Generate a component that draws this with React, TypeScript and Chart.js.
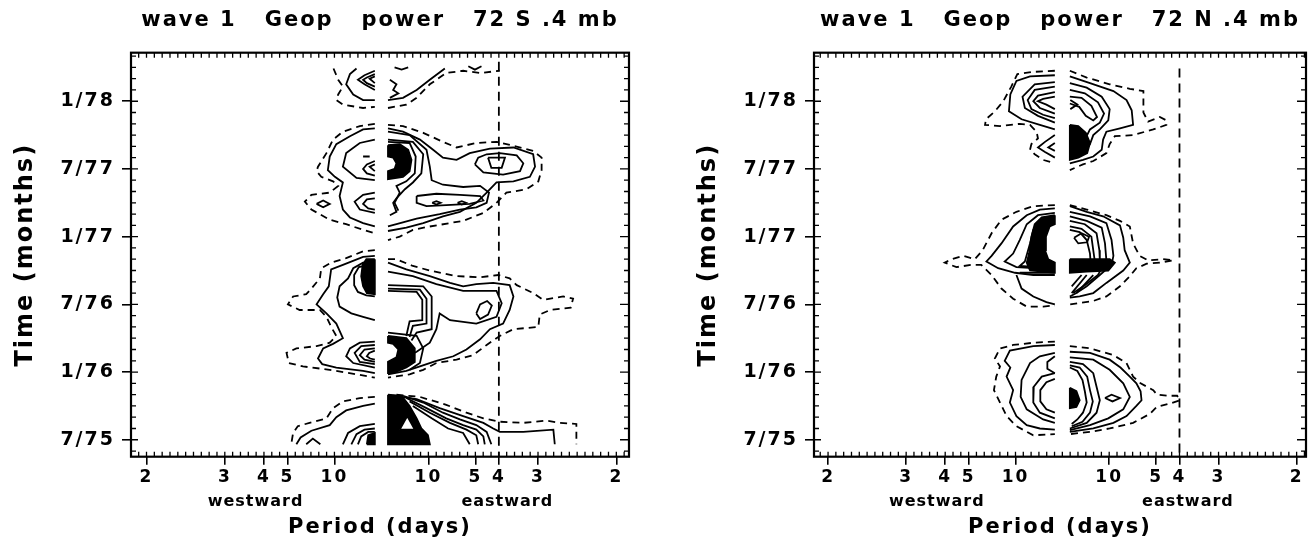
import React, { useEffect, useRef } from 'react';
import { Chart, registerables } from 'chart.js';

Chart.register(...registerables);

const FONT_FAMILY = "'DejaVu Sans', 'Liberation Sans', sans-serif";

// ---- axes ----
const PERIOD_TICKS = [2, 3, 4, 5, 10];
const X_TICK_VALUES = [...PERIOD_TICKS.map((p) => -1 / p), ...PERIOD_TICKS.map((p) => 1 / p)];
const MONTH_TICKS = [0, 6, 12, 18, 24, 30];
const MONTH_LABELS = ['7/75', '1/76', '7/76', '1/77', '7/77', '1/78'];
const MONTH_RANGE = [-1.5, 34.3];
const FREQ_RANGE_S = [-0.533, 0.527];
const FREQ_RANGE_N = [-0.53, 0.52];
const FREQ_MINOR_STEP = 1 / 60;
const DIRECTION_LABELS = ['westward', 'eastward'];
const DIRECTION_FREQ = [-0.268, 0.268];
const TITLE_S = 'wave 1   Geop   power   72 S .4 mb';
const TITLE_N = 'wave 1   Geop   power   72 N .4 mb';
const X_TITLE = 'Period (days)';
const Y_TITLE = 'Time (months)';

// period = 4 days (eastward) reference line
const S_PERIOD4 = [[0.25, 33.5], [0.25, -1.5]];
const N_PERIOD4 = [[0.25, 32.9], [0.25, -1.5]];

// ---- 72 S contours: [signed frequency (cycles/day), months since 7/75] ----
const S_DASHED = [
  [[-0.102, 32.9], [-0.092, 31.9], [-0.082, 31.3], [-0.092, 30.6], [-0.096, 30.1], [-0.082, 29.7], [-0.039, 29.4], [-0.014, 29.5]],
  [[0.014, 29.4], [0.053, 29.7], [0.075, 30.3], [0.103, 31.5], [0.138, 32.5], [0.174, 32.7], [0.21, 32.5], [0.252, 32.7]],
  [[-0.014, 28.0], [-0.046, 27.8], [-0.082, 27.3], [-0.103, 26.6], [-0.117, 25.4], [-0.135, 24.2], [-0.138, 23.8], [-0.128, 23.3], [-0.103, 22.9], [-0.092, 22.5], [-0.11, 21.9], [-0.149, 21.7], [-0.163, 21.1], [-0.149, 20.4], [-0.11, 19.5], [-0.075, 19.1], [-0.039, 18.6], [-0.014, 18.3]],
  [[0.014, 27.9], [0.046, 27.8], [0.089, 27.2], [0.131, 26.4], [0.16, 25.9], [0.202, 26.3], [0.245, 26.4], [0.266, 26.2], [0.323, 25.6], [0.341, 25.0], [0.341, 23.9], [0.334, 22.9], [0.309, 22.2], [0.266, 21.9], [0.245, 21.0], [0.217, 20.1], [0.174, 19.4], [0.103, 18.9], [0.067, 18.6], [0.039, 18.0], [0.014, 17.7]],
  [[-0.014, 16.8], [-0.039, 16.7], [-0.075, 16.1], [-0.107, 15.7], [-0.128, 15.2], [-0.131, 14.3], [-0.149, 13.4], [-0.16, 12.9], [-0.188, 12.7], [-0.199, 12.0], [-0.174, 11.5], [-0.131, 11.5], [-0.117, 10.9], [-0.107, 10.0], [-0.096, 9.2], [-0.11, 8.6], [-0.138, 8.3], [-0.181, 8.1], [-0.202, 7.7], [-0.197, 6.8], [-0.167, 6.5], [-0.11, 6.2], [-0.053, 5.8], [-0.014, 5.5]],
  [[0.014, 16.0], [0.032, 16.0], [0.067, 15.4], [0.103, 15.0], [0.16, 14.5], [0.21, 14.4], [0.249, 14.6], [0.273, 14.3], [0.288, 13.7], [0.323, 13.0], [0.344, 12.4], [0.387, 12.7], [0.408, 12.5], [0.403, 11.7], [0.359, 11.5], [0.337, 11.1], [0.334, 10.0], [0.281, 9.8], [0.252, 9.2], [0.224, 8.4], [0.195, 7.5], [0.16, 7.1], [0.117, 6.8], [0.089, 6.2], [0.06, 5.8], [0.014, 5.5]],
  [[-0.014, 3.8], [-0.046, 3.7], [-0.082, 3.4], [-0.103, 2.8], [-0.117, 1.9], [-0.153, 1.5], [-0.178, 1.2], [-0.188, 0.6], [-0.192, -0.4]],
  [[0.032, 4.0], [0.082, 3.8], [0.138, 3.1], [0.181, 2.4], [0.217, 1.9], [0.252, 1.6], [0.302, 1.5], [0.351, 1.7], [0.38, 1.5], [0.415, 1.4], [0.415, -0.4]],
];

const S_SOLID = [
  [[-0.014, 30.1], [-0.039, 30.1], [-0.06, 30.6], [-0.075, 31.5], [-0.067, 32.4], [-0.053, 32.9]],
  [[-0.014, 32.7], [-0.036, 32.3], [-0.05, 31.9], [-0.036, 31.5], [-0.014, 31.0]],
  [[-0.014, 32.4], [-0.031, 32.1], [-0.039, 31.9], [-0.031, 31.6], [-0.014, 31.3]],
  [[-0.014, 32.2], [-0.025, 32.0], [-0.014, 31.6]],
  [[0.014, 30.1], [0.046, 30.3], [0.075, 31.0], [0.103, 31.9], [0.135, 32.9]],
  [[0.018, 31.9], [0.032, 31.5], [0.025, 31.0], [0.036, 30.7], [0.018, 30.3]],
  [[0.028, 33.0], [0.043, 32.8], [0.057, 33.0]],
  [[0.185, 33.1], [0.199, 32.8], [0.213, 33.1]],
  [[-0.014, 27.6], [-0.039, 27.5], [-0.067, 26.9], [-0.096, 26.2], [-0.11, 25.1], [-0.114, 23.9], [-0.099, 23.3], [-0.082, 22.8], [-0.089, 21.6], [-0.082, 20.4], [-0.067, 19.7], [-0.039, 19.2], [-0.014, 18.9]],
  [[-0.014, 26.6], [-0.046, 26.3], [-0.075, 25.4], [-0.082, 24.2], [-0.053, 23.2], [-0.014, 23.0]],
  [[-0.014, 24.7], [-0.031, 24.4], [-0.039, 24.0], [-0.031, 23.6], [-0.014, 23.4]],
  [[-0.014, 24.4], [-0.025, 24.2], [-0.014, 23.8]],
  [[-0.039, 25.1], [-0.025, 25.1]],
  [[-0.014, 21.9], [-0.039, 21.7], [-0.057, 21.1], [-0.046, 20.4], [-0.014, 20.1]],
  [[-0.014, 21.4], [-0.031, 21.3], [-0.039, 20.9], [-0.028, 20.5], [-0.014, 20.4]],
  [[-0.138, 20.9], [-0.124, 21.2], [-0.11, 20.9], [-0.124, 20.6], [-0.138, 20.9]],
  [[0.014, 27.6], [0.046, 27.3], [0.082, 26.6], [0.11, 25.7], [0.131, 25.0], [0.16, 24.8], [0.188, 25.4], [0.231, 25.8], [0.281, 25.9], [0.323, 25.3], [0.327, 24.2], [0.316, 23.3], [0.281, 22.9], [0.245, 22.8], [0.224, 21.9], [0.202, 21.0], [0.167, 20.2], [0.131, 19.8], [0.089, 19.2], [0.053, 18.8], [0.014, 18.5]],
  [[0.014, 27.3], [0.06, 27.0], [0.096, 25.7], [0.103, 24.2], [0.107, 23.0], [0.131, 22.6], [0.174, 22.4], [0.21, 22.5], [0.229, 21.9], [0.224, 21.0], [0.202, 20.6], [0.167, 20.4], [0.124, 20.0], [0.075, 19.6], [0.032, 19.1], [0.014, 18.9]],
  [[0.075, 21.6], [0.117, 21.8], [0.167, 21.7], [0.21, 21.6], [0.217, 21.2], [0.188, 20.9], [0.138, 20.8], [0.096, 20.7], [0.075, 21.0], [0.075, 21.6]],
  [[0.108, 21.0], [0.117, 21.15], [0.126, 21.0], [0.117, 20.85], [0.108, 21.0]],
  [[0.162, 21.0], [0.171, 21.15], [0.18, 21.0], [0.171, 20.85], [0.162, 21.0]],
  [[0.199, 24.4], [0.206, 25.0], [0.224, 25.3], [0.252, 25.4], [0.288, 25.2], [0.302, 24.5], [0.295, 23.8], [0.259, 23.5], [0.217, 23.7], [0.199, 24.4]],
  [[0.227, 25.0], [0.263, 25.0], [0.256, 24.1], [0.234, 24.1], [0.227, 25.0]],
  [[0.014, 26.4], [0.06, 26.3], [0.073, 25.1], [0.071, 23.6], [0.053, 22.9], [0.032, 22.5], [0.039, 21.9], [0.028, 21.0], [0.036, 20.3]],
  [[0.014, 26.6], [0.067, 26.4], [0.089, 25.3], [0.085, 23.6], [0.067, 22.8], [0.05, 22.2], [0.032, 21.4], [0.025, 21.0], [0.032, 20.2], [0.018, 19.9]],
  [[-0.014, 16.3], [-0.039, 16.2], [-0.082, 15.5], [-0.107, 15.1], [-0.112, 13.6], [-0.124, 12.9], [-0.138, 12.0], [-0.117, 11.2], [-0.096, 10.3], [-0.082, 9.0], [-0.103, 8.5], [-0.124, 8.1], [-0.135, 7.2], [-0.126, 6.7], [-0.096, 6.4], [-0.039, 6.1], [-0.014, 5.9]],
  [[-0.014, 15.8], [-0.039, 15.7], [-0.06, 15.2], [-0.071, 14.3], [-0.089, 13.6], [-0.094, 12.6], [-0.089, 11.8], [-0.064, 11.2], [-0.039, 10.9], [-0.014, 10.6]],
  [[-0.014, 15.6], [-0.048, 15.3], [-0.058, 14.6], [-0.058, 13.7], [-0.05, 13.1], [-0.032, 12.8], [-0.014, 12.7]],
  [[-0.014, 8.7], [-0.046, 8.6], [-0.067, 8.1], [-0.075, 7.4], [-0.06, 6.8], [-0.014, 6.4]],
  [[-0.014, 8.4], [-0.043, 8.3], [-0.057, 7.7], [-0.046, 6.9], [-0.014, 6.7]],
  [[-0.014, 8.1], [-0.036, 8.0], [-0.046, 7.5], [-0.036, 7.1], [-0.014, 6.9]],
  [[-0.014, 7.9], [-0.026, 7.7], [-0.031, 7.4], [-0.024, 7.2], [-0.014, 7.1]],
  [[0.014, 15.7], [0.053, 15.1], [0.103, 14.5], [0.146, 13.9], [0.174, 13.6], [0.202, 13.8], [0.238, 13.9], [0.273, 13.7], [0.281, 12.7], [0.273, 11.5], [0.259, 10.3], [0.231, 9.8], [0.21, 8.9], [0.181, 8.0], [0.153, 7.4], [0.117, 7.0], [0.082, 6.5], [0.053, 6.1], [0.014, 5.8]],
  [[0.014, 14.9], [0.067, 14.5], [0.117, 13.8], [0.174, 13.2], [0.245, 13.2], [0.256, 12.1], [0.245, 10.9], [0.202, 10.3], [0.146, 10.6], [0.124, 11.2], [0.117, 9.8], [0.103, 8.6], [0.075, 7.8], [0.046, 7.2], [0.014, 6.8]],
  [[0.014, 13.7], [0.089, 13.6], [0.107, 12.7], [0.107, 9.8], [0.075, 9.5], [0.064, 8.8]],
  [[0.014, 13.4], [0.082, 13.3], [0.096, 12.5], [0.096, 10.3], [0.067, 10.1], [0.06, 9.1]],
  [[0.014, 13.2], [0.075, 13.1], [0.087, 12.4], [0.087, 10.6], [0.06, 10.5], [0.053, 9.2]],
  [[0.202, 11.2], [0.21, 12.0], [0.225, 12.3], [0.235, 11.9], [0.227, 11.1], [0.21, 10.7], [0.202, 11.2]],
  [[0.014, 9.5], [0.075, 9.2], [0.089, 8.1], [0.082, 6.8], [0.06, 6.2]],
  [[-0.014, 3.2], [-0.039, 3.0], [-0.075, 2.6], [-0.096, 2.0], [-0.11, 1.3], [-0.149, 0.8], [-0.172, 0.2], [-0.181, -0.4]],
  [[-0.16, -0.4], [-0.146, 0.1], [-0.13, -0.4]],
  [[-0.082, -0.4], [-0.071, 0.6], [-0.046, 1.2], [-0.014, 1.4]],
  [[-0.064, -0.4], [-0.053, 0.5], [-0.036, 0.9], [-0.014, 1.0]],
  [[-0.05, -0.4], [-0.043, 0.3], [-0.028, 0.7], [-0.014, 0.7]],
  [[0.025, 3.9], [0.075, 3.6], [0.124, 2.8], [0.174, 2.1], [0.217, 1.5], [0.238, 1.0], [0.252, 0.7], [0.302, 0.7], [0.366, 0.9], [0.369, -0.4]],
  [[0.046, 3.9], [0.089, 3.3], [0.131, 2.4], [0.167, 1.8], [0.202, 1.3], [0.224, 0.7], [0.234, -0.4]],
  [[0.053, 3.7], [0.096, 2.8], [0.138, 1.9], [0.174, 1.3], [0.202, 0.9], [0.217, 0.3], [0.22, -0.4]],
  [[0.06, 3.4], [0.103, 2.4], [0.146, 1.5], [0.181, 0.9], [0.202, 0.4], [0.206, -0.4]],
  [[0.067, 3.0], [0.107, 1.9], [0.142, 1.0], [0.174, 0.6], [0.188, -0.4]],
];

const S_FILLED = [
  [[0.014, 26.1], [0.039, 26.2], [0.057, 25.7], [0.064, 24.8], [0.06, 23.8], [0.046, 23.3], [0.014, 23.1], [0.014, 23.8], [0.028, 24.0], [0.032, 24.5], [0.025, 25.0], [0.014, 25.1], [0.014, 26.1]],
  [[-0.014, 16.0], [-0.032, 16.0], [-0.04, 15.5], [-0.043, 14.5], [-0.039, 13.6], [-0.031, 13.0], [-0.014, 12.9], [-0.014, 16.0]],
  [[0.014, 9.2], [0.053, 9.0], [0.071, 8.1], [0.071, 6.9], [0.053, 6.4], [0.025, 5.9], [0.014, 5.9], [0.014, 6.9], [0.032, 7.3], [0.036, 8.0], [0.025, 8.5], [0.014, 8.6], [0.014, 9.2]],
  [[-0.031, -0.4], [-0.028, 0.4], [-0.014, 0.6], [-0.014, -0.4], [-0.031, -0.4]],
  [[0.014, 4.0], [0.043, 3.9], [0.06, 3.0], [0.075, 1.9], [0.085, 1.0], [0.099, 0.4], [0.103, -0.4], [0.014, -0.4], [0.014, 4.0]],
];
const S_HOLES = [
  [[0.039, 0.9], [0.071, 0.9], [0.055, 2.1], [0.039, 0.9]],
];

// ---- 72 N contours ----
const N_DASHED = [
  [[-0.016, 32.7], [-0.062, 32.6], [-0.096, 32.4], [-0.109, 31.3], [-0.126, 30.0], [-0.144, 29.1], [-0.163, 28.4], [-0.165, 27.9], [-0.133, 27.8], [-0.091, 28.0], [-0.069, 27.9], [-0.055, 27.3], [-0.052, 26.7], [-0.066, 26.2], [-0.069, 25.7], [-0.059, 25.3], [-0.041, 24.8], [-0.016, 24.5]],
  [[0.016, 32.7], [0.052, 32.1], [0.101, 31.5], [0.144, 31.1], [0.173, 30.9], [0.173, 29.0], [0.183, 28.2], [0.208, 28.6], [0.222, 28.3], [0.222, 27.9], [0.194, 27.5], [0.151, 27.0], [0.112, 26.9], [0.101, 26.2], [0.094, 25.4], [0.066, 24.7], [0.044, 24.4], [0.016, 23.9]],
  [[-0.016, 20.8], [-0.062, 20.7], [-0.098, 20.2], [-0.13, 19.5], [-0.151, 18.3], [-0.17, 16.8], [-0.187, 16.0], [-0.212, 16.3], [-0.237, 16.0], [-0.251, 15.7], [-0.226, 15.3], [-0.194, 15.5], [-0.173, 15.5], [-0.151, 14.6], [-0.13, 13.4], [-0.105, 12.5], [-0.076, 11.8], [-0.041, 11.8], [-0.016, 11.9]],
  [[0.016, 20.8], [0.052, 20.4], [0.094, 19.9], [0.123, 19.4], [0.144, 18.9], [0.151, 17.4], [0.165, 16.3], [0.183, 15.9], [0.215, 16.0], [0.237, 15.9], [0.208, 15.7], [0.18, 15.6], [0.158, 15.2], [0.144, 14.5], [0.123, 13.6], [0.094, 12.7], [0.066, 12.3], [0.016, 12.0]],
  [[-0.016, 8.7], [-0.062, 8.6], [-0.105, 8.4], [-0.133, 8.1], [-0.144, 7.2], [-0.133, 6.5], [-0.141, 5.6], [-0.146, 4.4], [-0.133, 3.3], [-0.119, 2.1], [-0.098, 1.2], [-0.062, 0.4], [-0.016, 0.5]],
  [[0.016, 8.3], [0.059, 8.1], [0.109, 7.5], [0.137, 6.8], [0.151, 5.6], [0.167, 5.0], [0.194, 4.4], [0.202, 4.0], [0.226, 3.9], [0.245, 3.9], [0.251, 3.5], [0.229, 3.2], [0.201, 2.9], [0.187, 2.3], [0.151, 1.5], [0.101, 1.0], [0.059, 0.7], [0.016, 0.5]],
];

const N_SOLID = [
  [[-0.016, 32.3], [-0.069, 32.2], [-0.098, 31.8], [-0.111, 30.6], [-0.114, 29.1], [-0.087, 28.4], [-0.048, 27.9], [-0.016, 27.5]],
  [[-0.016, 27.0], [-0.037, 26.4], [-0.052, 25.9], [-0.037, 25.5], [-0.016, 25.0]],
  [[-0.016, 26.3], [-0.03, 25.9], [-0.016, 25.6]],
  [[-0.016, 31.7], [-0.059, 31.5], [-0.085, 30.4], [-0.08, 29.4], [-0.052, 28.7], [-0.016, 28.1]],
  [[-0.016, 31.3], [-0.059, 31.0], [-0.074, 30.1], [-0.066, 29.3], [-0.041, 28.8], [-0.016, 28.5]],
  [[-0.016, 30.8], [-0.052, 30.5], [-0.062, 30.0], [-0.048, 29.4], [-0.016, 28.9]],
  [[-0.016, 30.4], [-0.041, 30.2], [-0.052, 30.0], [-0.034, 29.7], [-0.016, 29.3]],
  [[0.016, 32.2], [0.059, 31.6], [0.109, 30.9], [0.137, 30.1], [0.148, 29.2], [0.151, 27.9], [0.123, 27.6], [0.094, 27.3], [0.087, 26.6], [0.084, 25.7], [0.066, 25.1], [0.044, 24.8], [0.016, 24.5]],
  [[0.016, 31.6], [0.052, 31.2], [0.084, 30.4], [0.101, 29.3], [0.098, 28.3], [0.08, 27.5], [0.066, 27.0], [0.059, 26.2], [0.044, 25.4], [0.016, 25.0]],
  [[0.016, 31.0], [0.048, 30.7], [0.076, 29.9], [0.089, 28.9], [0.08, 28.1], [0.059, 27.5], [0.048, 26.6], [0.037, 25.7], [0.016, 25.3]],
  [[0.016, 30.4], [0.041, 30.3], [0.062, 29.6], [0.074, 28.6], [0.066, 28.3], [0.05, 28.7], [0.036, 29.5], [0.016, 29.8]],
  [[0.017, 30.1], [0.032, 29.7], [0.017, 29.3]],
  [[-0.016, 20.5], [-0.048, 20.4], [-0.076, 19.9], [-0.105, 18.9], [-0.13, 17.4], [-0.151, 16.3], [-0.162, 15.8], [-0.137, 15.2], [-0.101, 14.8], [-0.062, 14.6], [-0.016, 14.6]],
  [[-0.098, 14.6], [-0.087, 13.4], [-0.062, 12.7], [-0.034, 12.2], [-0.016, 12.0]],
  [[-0.016, 20.1], [-0.052, 19.9], [-0.076, 19.1], [-0.091, 17.7], [-0.105, 16.5], [-0.123, 15.8], [-0.098, 15.3], [-0.016, 15.1]],
  [[-0.016, 19.8], [-0.044, 19.6], [-0.062, 18.6], [-0.069, 17.4], [-0.08, 15.8], [-0.091, 15.4], [-0.016, 15.2]],
  [[-0.091, 14.8], [-0.016, 14.8]],
  [[0.016, 20.7], [0.052, 20.2], [0.087, 19.8], [0.123, 19.0], [0.13, 17.9], [0.133, 16.8], [0.144, 15.7], [0.13, 15.0], [0.094, 13.9], [0.066, 13.0], [0.037, 12.7], [0.016, 12.6]],
  [[0.016, 20.2], [0.059, 19.8], [0.094, 19.2], [0.105, 17.7], [0.109, 16.3], [0.105, 15.5], [0.08, 14.6], [0.052, 13.6], [0.03, 13.0], [0.016, 12.7]],
  [[0.016, 19.8], [0.052, 19.4], [0.084, 18.8], [0.091, 17.4], [0.094, 15.9], [0.076, 14.6], [0.048, 13.7], [0.023, 13.0]],
  [[0.016, 19.4], [0.048, 19.1], [0.073, 18.3], [0.079, 16.8], [0.08, 15.9]],
  [[0.016, 18.9], [0.041, 18.7], [0.062, 18.0], [0.067, 16.5], [0.069, 15.9]],
  [[0.016, 18.6], [0.037, 18.4], [0.052, 17.7], [0.059, 16.5], [0.06, 15.9]],
  [[0.025, 17.9], [0.041, 18.3], [0.057, 18.0], [0.053, 17.5], [0.034, 17.4], [0.025, 17.9]],
  [[0.02, 13.0], [0.052, 14.6]],
  [[0.02, 13.6], [0.041, 14.6]],
  [[0.03, 13.0], [0.066, 14.6]],
  [[-0.016, 8.4], [-0.062, 8.3], [-0.112, 7.9], [-0.123, 7.0], [-0.111, 6.4], [-0.119, 5.6], [-0.105, 4.4], [-0.112, 3.3], [-0.098, 2.1], [-0.076, 1.3], [-0.048, 1.0], [-0.016, 0.9]],
  [[-0.016, 7.7], [-0.048, 7.4], [-0.069, 6.8], [-0.087, 5.3], [-0.089, 3.8], [-0.076, 2.7], [-0.041, 1.8], [-0.016, 1.5]],
  [[-0.016, 5.9], [-0.044, 5.6], [-0.061, 4.7], [-0.062, 3.3], [-0.048, 2.4], [-0.016, 1.9]],
  [[-0.016, 5.4], [-0.034, 5.1], [-0.047, 4.4], [-0.047, 3.4], [-0.034, 2.7], [-0.016, 2.4]],
  [[-0.016, 7.4], [-0.032, 6.9], [-0.032, 6.3], [-0.016, 5.9]],
  [[0.016, 7.8], [0.059, 7.7], [0.101, 7.1], [0.124, 6.4], [0.144, 5.6], [0.158, 5.0], [0.167, 4.3], [0.169, 3.5], [0.158, 3.0], [0.137, 2.1], [0.109, 1.5], [0.066, 1.0], [0.016, 0.7]],
  [[0.016, 7.3], [0.066, 7.1], [0.101, 6.2], [0.13, 5.0], [0.144, 3.8], [0.13, 2.7], [0.098, 1.9], [0.059, 1.3], [0.016, 0.85]],
  [[0.016, 6.9], [0.044, 6.7], [0.066, 5.9], [0.073, 4.7], [0.08, 3.5], [0.073, 2.4], [0.052, 1.5], [0.016, 1.0]],
  [[0.016, 6.6], [0.037, 6.4], [0.053, 5.6], [0.059, 4.4], [0.065, 3.4], [0.059, 2.4], [0.043, 1.6], [0.02, 1.2]],
  [[0.016, 6.4], [0.032, 6.1], [0.043, 5.3], [0.048, 4.3], [0.052, 3.3], [0.044, 2.4], [0.032, 1.8], [0.02, 1.4]],
  [[0.091, 3.7], [0.105, 4.0], [0.123, 3.7], [0.107, 3.4], [0.091, 3.7]],
];

const N_FILLED = [
  [[0.016, 27.9], [0.034, 27.8], [0.05, 27.2], [0.059, 26.3], [0.053, 25.4], [0.034, 25.0], [0.016, 24.8], [0.016, 27.9]],
  [[-0.016, 19.9], [-0.044, 19.7], [-0.059, 19.1], [-0.066, 18.0], [-0.071, 16.5], [-0.076, 15.7], [-0.069, 15.0], [-0.016, 14.8], [-0.016, 15.7], [-0.03, 16.0], [-0.037, 16.8], [-0.035, 18.0], [-0.027, 18.9], [-0.016, 19.1], [-0.016, 19.9]],
  [[0.016, 16.0], [0.101, 16.0], [0.112, 15.7], [0.098, 15.0], [0.052, 14.9], [0.016, 14.8], [0.016, 16.0]],
  [[0.016, 4.6], [0.03, 4.3], [0.037, 3.5], [0.03, 2.9], [0.016, 2.8], [0.016, 4.6]],
];
const N_HOLES: number[][][] = [];

// ---- drawing helpers ----
const framePlugin = {
  id: 'plotFrame',
  beforeDraw(chart: any) {
    chart.ctx.letterSpacing = '2px';
  },
  afterDatasetsDraw(chart: any) {
    const { ctx, chartArea: a, scales } = chart;
    const x = scales.x;
    const y = scales.y;
    ctx.save();
    ctx.strokeStyle = '#000';
    ctx.lineWidth = 1.3;
    ctx.beginPath();
    const k0 = Math.ceil(x.min / FREQ_MINOR_STEP);
    const k1 = Math.floor(x.max / FREQ_MINOR_STEP);
    for (let k = k0; k <= k1; k++) {
      const px = x.getPixelForValue(k * FREQ_MINOR_STEP);
      ctx.moveTo(px, a.bottom);
      ctx.lineTo(px, a.bottom - 5);
      ctx.moveTo(px, a.top);
      ctx.lineTo(px, a.top + 5);
    }
    for (let m = Math.ceil(y.min); m <= Math.floor(y.max); m++) {
      const py = y.getPixelForValue(m);
      const major = MONTH_TICKS.includes(m);
      ctx.moveTo(a.left, py);
      ctx.lineTo(a.left + (major ? 7 : 5), py);
      ctx.moveTo(a.right, py);
      ctx.lineTo(a.right - (major ? 9 : 5), py);
    }
    ctx.stroke();
    ctx.lineWidth = 2.2;
    ctx.strokeRect(a.left, a.top, a.right - a.left, a.bottom - a.top);
    ctx.fillStyle = '#000';
    ctx.letterSpacing = '1px';
    ctx.font = `bold 16px ${FONT_FAMILY}`;
    ctx.textAlign = 'center';
    ctx.textBaseline = 'middle';
    DIRECTION_LABELS.forEach((t, i) => {
      ctx.fillText(t, x.getPixelForValue(DIRECTION_FREQ[i]), a.bottom + 45);
    });
    ctx.restore();
  },
};

function toPoints(c: number[][]) {
  return c.map(([x, y]) => ({ x, y }));
}

function buildChart(canvas: HTMLCanvasElement, cfg: any) {
  const base = {
    pointRadius: 0,
    pointHoverRadius: 0,
    borderColor: '#000',
    borderWidth: 1.8,
    tension: 0,
    fill: false,
  };
  const datasets = [
    ...cfg.filled.map((c: number[][]) => ({ ...base, data: toPoints(c), fill: 'shape', backgroundColor: '#000', order: 3 })),
    ...cfg.holes.map((c: number[][]) => ({ ...base, data: toPoints(c), fill: 'shape', backgroundColor: '#fff', order: 2 })),
    ...cfg.solid.map((c: number[][]) => ({ ...base, data: toPoints(c), order: 1 })),
    ...cfg.dashed.map((c: number[][]) => ({ ...base, data: toPoints(c), borderDash: [7, 5], order: 1 })),
    { ...base, data: toPoints(cfg.boundary), borderDash: [9, 6], order: 1 },
  ];
  const bold = 'bold' as const;
  return new Chart(canvas, {
    type: 'line',
    data: { datasets },
    plugins: [framePlugin],
    options: {
      responsive: false,
      animation: false,
      devicePixelRatio: 1,
      events: [],
      layout: { padding: { left: cfg.padLeft, right: cfg.padRight, top: 0, bottom: 0 } },
      plugins: {
        legend: { display: false },
        tooltip: { enabled: false },
        title: {
          display: true,
          text: cfg.title,
          fullSize: false,
          color: '#000',
          font: { family: FONT_FAMILY, size: 21, weight: bold, lineHeight: 1.2 },
          padding: { top: 8, bottom: 19.5 },
        },
      },
      scales: {
        x: {
          type: 'linear',
          min: cfg.xRange[0],
          max: cfg.xRange[1],
          afterFit: (s: any) => { s.height = 91.3; },
          afterBuildTicks: (s: any) => { s.ticks = X_TICK_VALUES.map((v) => ({ value: v })); },
          ticks: {
            color: '#000',
            font: { family: FONT_FAMILY, size: 17, weight: bold },
            padding: 3,
            autoSkip: false,
            maxRotation: 0,
            minRotation: 0,
            callback: (v: any) => String(Math.round(1 / Math.abs(Number(v)))),
          },
          grid: { display: true, drawOnChartArea: false, drawTicks: true, tickLength: 8, color: '#000', lineWidth: 1.6 },
          border: { display: false },
          title: {
            display: true,
            text: X_TITLE,
            color: '#000',
            font: { family: FONT_FAMILY, size: 21, weight: bold, lineHeight: 1.2 },
            padding: { top: 0, bottom: 8 },
          },
        },
        y: {
          type: 'linear',
          min: MONTH_RANGE[0],
          max: MONTH_RANGE[1],
          afterFit: (s: any) => { s.width = 131; },
          afterBuildTicks: (s: any) => { s.ticks = MONTH_TICKS.map((v) => ({ value: v })); },
          ticks: {
            color: '#000',
            font: { family: FONT_FAMILY, size: 19, weight: bold },
            padding: 7,
            autoSkip: false,
            callback: (v: any) => MONTH_LABELS[MONTH_TICKS.indexOf(Number(v))] ?? '',
          },
          grid: { display: true, drawOnChartArea: false, drawTicks: true, tickLength: 9, color: '#000', lineWidth: 1.6 },
          border: { display: false },
          title: {
            display: true,
            text: Y_TITLE,
            color: '#000',
            font: { family: FONT_FAMILY, size: 24, weight: bold, lineHeight: 1.2 },
            padding: { top: 11, bottom: 0 },
          },
        },
      },
    } as any,
  });
}

export default function App() {
  const leftRef = useRef<HTMLCanvasElement>(null);
  const rightRef = useRef<HTMLCanvasElement>(null);

  useEffect(() => {
    const charts = [
      buildChart(leftRef.current as HTMLCanvasElement, {
        title: TITLE_S,
        dashed: S_DASHED,
        solid: S_SOLID,
        filled: S_FILLED,
        holes: S_HOLES,
        boundary: S_PERIOD4,
        xRange: FREQ_RANGE_S,
        padLeft: 0,
        padRight: 26,
      }),
      buildChart(rightRef.current as HTMLCanvasElement, {
        title: TITLE_N,
        dashed: N_DASHED,
        solid: N_SOLID,
        filled: N_FILLED,
        holes: N_HOLES,
        boundary: N_PERIOD4,
        xRange: FREQ_RANGE_N,
        padLeft: 28,
        padRight: 5,
      }),
    ];
    return () => charts.forEach((c) => c.destroy());
  }, []);

  return (
    <div style={{ position: 'fixed', left: 0, top: 0, width: 1311, height: 548, background: '#fff' }}>
      <canvas ref={leftRef} width={655} height={548} style={{ position: 'absolute', left: 0, top: 0, width: 655, height: 548 }} />
      <canvas ref={rightRef} width={656} height={548} style={{ position: 'absolute', left: 655, top: 0, width: 656, height: 548 }} />
    </div>
  );
}
